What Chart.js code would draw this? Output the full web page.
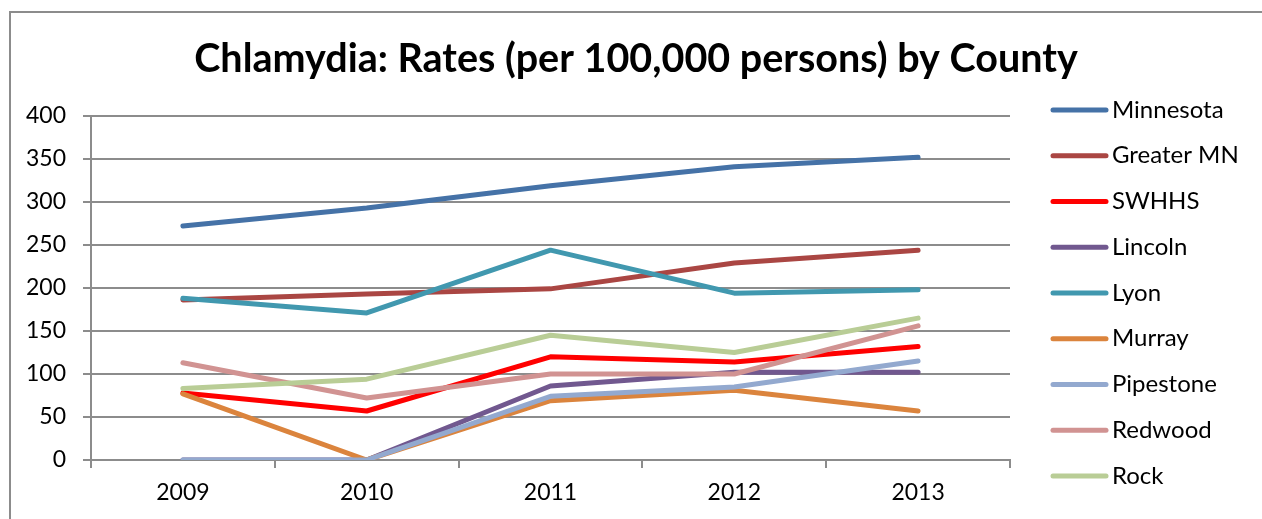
<!DOCTYPE html>
<html>
<head>
<meta charset="utf-8">
<title>Chlamydia rates by county</title>
<script src="https://cdn.jsdelivr.net/npm/chart.js@4.4.1/dist/chart.umd.min.js"></script>
<style>
  html, body { margin: 0; padding: 0; background: #fff; overflow: hidden; }
  #wrap { position: relative; width: 1262px; height: 519px; }
  #frame {
    position: absolute; left: 9px; top: 11px; right: -10px; bottom: -10px;
    border-left: 2px solid #8c8c8c; border-top: 2px solid #8c8c8c;
  }
  #chart { position: absolute; left: 0; top: 0; }
</style>
</head>
<body>
<div id="wrap">
  <div id="frame"></div>
  <canvas id="chart" width="1262" height="519"></canvas>
</div>
<script>
// Rates per 100,000 persons
const years = ['2009', '2010', '2011', '2012', '2013'];
const minnesota = [272, 293, 319, 341, 352];
const greaterMN = [186, 193, 199, 229, 244];
const swhhs     = [78, 57, 120, 114, 132];
const lincoln   = [0, 0, 86, 102, 102];
const lyon      = [188, 171, 244, 194, 198];
const murray    = [77, 0, 69, 81, 57];
const pipestone = [0, 0, 74, 85, 115];
const redwood   = [113, 72, 100, 100, 156];
const rock      = [83, 94, 145, 125, 165];

const seriesNames  = ['Minnesota', 'Greater MN', 'SWHHS', 'Lincoln', 'Lyon', 'Murray', 'Pipestone', 'Redwood', 'Rock'];
const seriesValues = [minnesota, greaterMN, swhhs, lincoln, lyon, murray, pipestone, redwood, rock];
const seriesColors = ['#4572A7', '#AA4643', '#FF0000', '#71588F', '#4198AF', '#DB843D', '#93A9CF', '#D19392', '#B9CD96'];

const chartTitle = 'Chlamydia: Rates (per 100,000 persons) by County';

const FONT = 'Lato, "Open Sans", sans-serif';
const GRID = '#8c8c8c';

// title centred over the whole frame, legend as round-capped line samples on the right
const frameText = {
  id: 'frameText',
  afterDraw(chart) {
    const ctx = chart.ctx;
    ctx.save();
    ctx.fillStyle = '#000';
    ctx.font = 'bold 39.5px ' + FONT;
    ctx.textAlign = 'center';
    ctx.textBaseline = 'alphabetic';
    ctx.fillText(chartTitle, 636, 72);

    const x0 = chart.chartArea.right + 43;
    ctx.font = '24px ' + FONT;
    ctx.textBaseline = 'middle';
    ctx.textAlign = 'left';
    chart.data.datasets.forEach((ds, i) => {
      const y = 110 + i * 45.75;
      ctx.strokeStyle = ds.borderColor;
      ctx.lineWidth = 5;
      ctx.lineCap = 'round';
      ctx.beginPath();
      ctx.moveTo(x0, y);
      ctx.lineTo(x0 + 53, y);
      ctx.stroke();
      ctx.fillStyle = '#000';
      ctx.fillText(ds.label, x0 + 59, y);
    });
    ctx.restore();
  }
};

new Chart(document.getElementById('chart'), {
  type: 'line',
  data: {
    labels: years,
    datasets: seriesNames.map((name, i) => ({
      label: name,
      data: seriesValues[i],
      borderColor: seriesColors[i],
      backgroundColor: seriesColors[i],
      borderWidth: 5,
      borderCapStyle: 'round',
      borderJoinStyle: 'round',
      pointRadius: 0,
      tension: 0,
      order: -i
    }))
  },
  options: {
    responsive: false,
    animation: false,
    layout: { padding: { left: 0, right: 252, top: 116, bottom: 0 } },
    plugins: {
      legend: { display: false },
      tooltip: { enabled: false },
      title: { display: false }
    },
    scales: {
      x: {
        offset: true,
        afterFit: s => { s.height = 59; },
        grid: {
          offset: true,
          drawOnChartArea: false,
          drawTicks: true,
          tickLength: 8,
          color: GRID,
          lineWidth: 2
        },
        border: { display: true, color: GRID, width: 2 },
        ticks: { color: '#000', font: { family: FONT, size: 23 }, padding: 11, maxRotation: 0 }
      },
      y: {
        min: 0,
        max: 400,
        afterFit: s => { s.width = 91; },
        grid: { color: GRID, lineWidth: 2, tickLength: 8 },
        border: { display: true, color: GRID, width: 2 },
        ticks: { stepSize: 50, color: '#000', font: { family: FONT, size: 23 }, padding: 17 }
      }
    }
  },
  plugins: [frameText]
});
</script>
</body>
</html>
